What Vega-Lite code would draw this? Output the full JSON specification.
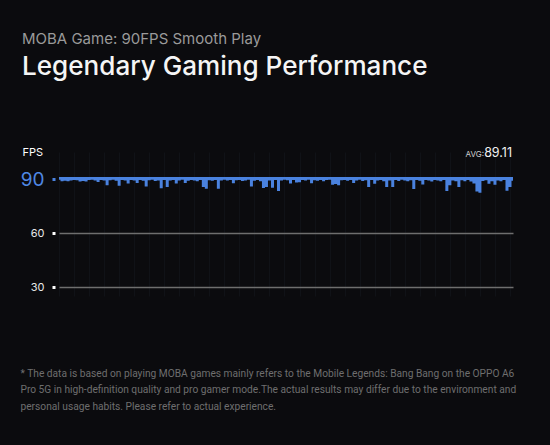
{
  "$schema": "https://vega.github.io/schema/vega-lite/v6.json",
  "autosize": "none",
  "width": 454,
  "height": 144,
  "padding": {"left": 59, "top": 152, "right": 37, "bottom": 149},
  "background": "#0b0b0e",
  "config": {"view": {"stroke": null}, "font": "Inter"},
  "title": {
    "text": "MOBA Game: 90FPS Smooth Play",
    "subtitle": "Legendary Gaming Performance",
    "anchor": "start",
    "frame": "group",
    "dx": -37,
    "offset": 66,
    "font": "Inter",
    "fontSize": 15,
    "fontWeight": 400,
    "color": "#9a9a9a",
    "subtitleFont": "Inter",
    "subtitleFontSize": 26.1,
    "subtitleFontWeight": 500,
    "subtitleColor": "#f5f5f5",
    "subtitlePadding": 7
  },
  "datasets": {
    "fps": [
      {"t":0,"fps":89.6},{"t":1,"fps":88.8},{"t":2,"fps":89.0},{"t":3,"fps":88.8},{"t":4,"fps":89.1},{"t":5,"fps":89.5},{"t":6,"fps":89.3},{"t":7,"fps":88.6},{"t":8,"fps":88.9},{"t":9,"fps":88.6},
      {"t":10,"fps":89.4},{"t":11,"fps":89.6},{"t":12,"fps":89.2},{"t":13,"fps":88.4},{"t":14,"fps":89.5},{"t":15,"fps":89.1},{"t":16,"fps":86.5},{"t":17,"fps":89.3},{"t":18,"fps":89.6},{"t":19,"fps":89.0},
      {"t":20,"fps":86.2},{"t":21,"fps":89.4},{"t":22,"fps":89.2},{"t":23,"fps":87.5},{"t":24,"fps":89.5},{"t":25,"fps":89.1},{"t":26,"fps":87.8},{"t":27,"fps":89.4},{"t":28,"fps":89.0},{"t":29,"fps":85.8},
      {"t":30,"fps":89.3},{"t":31,"fps":89.6},{"t":32,"fps":88.9},{"t":33,"fps":89.2},{"t":34,"fps":84.8},{"t":35,"fps":89.4},{"t":36,"fps":85.6},{"t":37,"fps":89.1},{"t":38,"fps":89.5},{"t":39,"fps":87.5},
      {"t":40,"fps":89.2},{"t":41,"fps":89.6},{"t":42,"fps":87.8},{"t":43,"fps":89.0},{"t":44,"fps":89.4},{"t":45,"fps":89.2},{"t":46,"fps":88.8},{"t":47,"fps":89.5},{"t":48,"fps":85.5},{"t":49,"fps":84.6},
      {"t":50,"fps":89.3},{"t":51,"fps":89.0},{"t":52,"fps":89.5},{"t":53,"fps":84.6},{"t":54,"fps":89.2},{"t":55,"fps":89.6},{"t":56,"fps":89.1},{"t":57,"fps":89.4},{"t":58,"fps":87.6},{"t":59,"fps":89.3},
      {"t":60,"fps":89.5},{"t":61,"fps":88.9},{"t":62,"fps":89.2},{"t":63,"fps":89.6},{"t":64,"fps":85.8},{"t":65,"fps":89.0},{"t":66,"fps":89.4},{"t":67,"fps":88.7},{"t":68,"fps":85.0},{"t":69,"fps":85.5},
      {"t":70,"fps":89.2},{"t":71,"fps":85.2},{"t":72,"fps":89.5},{"t":73,"fps":83.4},{"t":74,"fps":89.1},{"t":75,"fps":89.6},{"t":76,"fps":89.3},{"t":77,"fps":87.5},{"t":78,"fps":89.4},{"t":79,"fps":88.0},
      {"t":80,"fps":88.2},{"t":81,"fps":89.5},{"t":82,"fps":89.2},{"t":83,"fps":89.6},{"t":84,"fps":87.6},{"t":85,"fps":89.3},{"t":86,"fps":89.0},{"t":87,"fps":89.5},{"t":88,"fps":88.8},{"t":89,"fps":89.4},
      {"t":90,"fps":89.6},{"t":91,"fps":86.8},{"t":92,"fps":87.2},{"t":93,"fps":86.5},{"t":94,"fps":89.3},{"t":95,"fps":89.5},{"t":96,"fps":89.0},{"t":97,"fps":89.4},{"t":98,"fps":87.8},{"t":99,"fps":89.2},
      {"t":100,"fps":89.6},{"t":101,"fps":88.9},{"t":102,"fps":89.3},{"t":103,"fps":85.5},{"t":104,"fps":89.4},{"t":105,"fps":87.3},{"t":106,"fps":89.1},{"t":107,"fps":89.5},{"t":108,"fps":88.8},{"t":109,"fps":85.6},
      {"t":110,"fps":89.2},{"t":111,"fps":85.6},{"t":112,"fps":89.4},{"t":113,"fps":88.9},{"t":114,"fps":89.6},{"t":115,"fps":89.2},{"t":116,"fps":88.7},{"t":117,"fps":89.3},{"t":118,"fps":84.5},{"t":119,"fps":89.5},
      {"t":120,"fps":89.0},{"t":121,"fps":87.0},{"t":122,"fps":89.4},{"t":123,"fps":89.1},{"t":124,"fps":88.6},{"t":125,"fps":89.5},{"t":126,"fps":89.2},{"t":127,"fps":88.8},{"t":128,"fps":89.4},{"t":129,"fps":83.4},
      {"t":130,"fps":86.5},{"t":131,"fps":89.1},{"t":132,"fps":88.7},{"t":133,"fps":85.5},{"t":134,"fps":89.3},{"t":135,"fps":88.8},{"t":136,"fps":89.4},{"t":137,"fps":88.6},{"t":138,"fps":87.5},{"t":139,"fps":83.0},
      {"t":140,"fps":82.3},{"t":141,"fps":88.9},{"t":142,"fps":89.3},{"t":143,"fps":87.3},{"t":144,"fps":88.8},{"t":145,"fps":86.8},{"t":146,"fps":89.2},{"t":147,"fps":88.7},{"t":148,"fps":89.4},{"t":149,"fps":83.5},
      {"t":150,"fps":85.5},{"t":151,"fps":89.0}
    ]
  },
  "layer": [
    {
      "data": {"name": "fps"},
      "mark": {"type": "area", "interpolate": "step", "color": "#4a82df"},
      "encoding": {
        "x": {
          "field": "t", "type": "quantitative",
          "scale": {"domain": [0, 151], "nice": false, "zero": false},
          "axis": {
            "domain": false, "ticks": false, "labels": false,
            "grid": true, "gridColor": "#101217", "tickCount": 45,
            "title": [
              "* The data is based on playing MOBA games mainly refers to the Mobile Legends: Bang Bang on the OPPO A6",
              "Pro 5G in high-definition quality and pro gamer mode.The actual results may differ due to the environment and",
              "personal usage habits. Please refer to actual experience."
            ],
            "titleAnchor": "start", "titleAlign": "left", "titleBaseline": "top",
            "titleX": -39, "titleY": 72,
            "titleFont": "Roboto", "titleFontSize": 10.2, "titleFontWeight": 400,
            "titleColor": "#6e6e6e", "titleLineHeight": 16.5
          }
        },
        "y": {
          "field": "fps", "type": "quantitative",
          "scale": {"domain": [25, 105], "nice": false, "zero": false},
          "axis": {
            "values": [30, 60, 90],
            "domain": false, "offset": 4,
            "tickSize": 3, "tickWidth": 3,
            "tickColor": {"condition": {"test": "datum.value == 90", "value": "#4a82df"}, "value": "#ffffff"},
            "labelPadding": 8,
            "labelFont": "Inter",
            "labelColor": {"condition": {"test": "datum.value == 90", "value": "#4f88e3"}, "value": "#e8e8e8"},
            "labelFontSize": {"condition": {"test": "datum.value == 90", "value": 19}, "value": 11},
            "grid": true, "gridColor": "#6e6e6e", "gridWidth": 1.5,
            "gridOpacity": {"condition": {"test": "datum.value == 90", "value": 0}, "value": 1},
            "title": "FPS", "titleAngle": 0, "titleAlign": "left", "titleBaseline": "middle",
            "titleX": -33, "titleY": 0,
            "titleFont": "Inter", "titleFontSize": 11, "titleFontWeight": 400, "titleColor": "#ffffff"
          }
        },
        "y2": {"datum": 91.1}
      }
    },
    {
      "data": {"values": [{"label": "89.11"}]},
      "mark": {"type": "text", "align": "right", "baseline": "alphabetic", "fontSize": 12.5, "color": "#f2f2f2", "font": "Inter", "dx": -1},
      "encoding": {
        "x": {"datum": 151, "type": "quantitative"},
        "y": {"datum": 102.2, "type": "quantitative"},
        "text": {"field": "label"}
      }
    },
    {
      "data": {"values": [{"label": "AVG:"}]},
      "mark": {"type": "text", "align": "right", "baseline": "alphabetic", "fontSize": 8, "color": "#cfcfcf", "font": "Inter", "dx": -29},
      "encoding": {
        "x": {"datum": 151, "type": "quantitative"},
        "y": {"datum": 102.2, "type": "quantitative"},
        "text": {"field": "label"}
      }
    }
  ]
}
